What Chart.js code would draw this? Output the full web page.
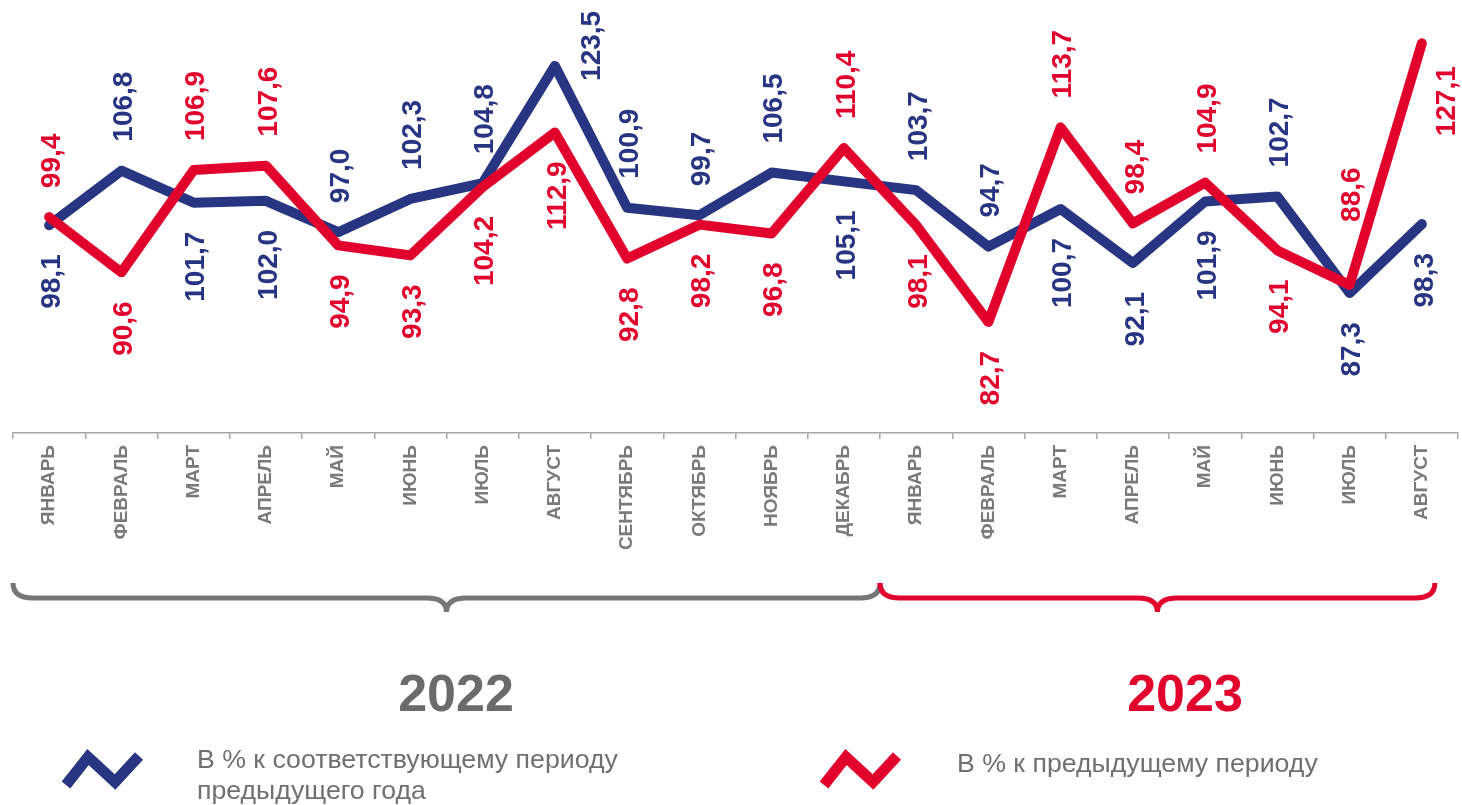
<!DOCTYPE html>
<html lang="ru">
<head>
<meta charset="utf-8">
<script src="https://cdn.jsdelivr.net/npm/chart.js@4.4.1/dist/chart.umd.min.js"></script>
<style>
  html, body { margin: 0; padding: 0; background: #fff; }
  body { width: 1462px; height: 805px; position: relative; overflow: hidden; font-family: "Liberation Sans", Arial, sans-serif; }
  #chart { position: absolute; left: 0; top: 0; }
  .year { position: absolute; top: 660px; width: 200px; text-align: center; font-size: 52px; font-weight: bold; line-height: 66px; }
  .legText { position: absolute; font-size: 26.7px; line-height: 31px; color: #707070; white-space: nowrap; }
  svg.icon { position: absolute; left: 0; top: 0; }
</style>
</head>
<body>
<canvas id="chart" width="1462" height="805"></canvas>

<div class="year" style="left:356px; color:#6b6b6b;">2022</div>
<div class="year" style="left:1085px; color:#e2002d;">2023</div>

<svg class="icon" width="1462" height="805">
  <polyline points="66,785 88,757 115,782 139,756" fill="none" stroke="#283583" stroke-width="11" stroke-linejoin="miter"/>
  <polyline points="824,785 846,757 873,782 897,756" fill="none" stroke="#e2002d" stroke-width="11" stroke-linejoin="miter"/>
</svg>
<div class="legText" style="left:197px; top:744px;">В % к соответствующему периоду<br>предыдущего года</div>
<div class="legText" style="left:957px; top:748px;">В % к предыдущему периоду</div>

<script>
// months, 2022 Jan - 2023 Aug
const months = ['ЯНВАРЬ','ФЕВРАЛЬ','МАРТ','АПРЕЛЬ','МАЙ','ИЮНЬ','ИЮЛЬ','АВГУСТ','СЕНТЯБРЬ','ОКТЯБРЬ','НОЯБРЬ','ДЕКАБРЬ',
                'ЯНВАРЬ','ФЕВРАЛЬ','МАРТ','АПРЕЛЬ','МАЙ','ИЮНЬ','ИЮЛЬ','АВГУСТ'];
// % к соответствующему периоду предыдущего года
const yoyValues = [98.1,106.8,101.7,102.0,97.0,102.3,104.8,123.5,100.9,99.7,106.5,105.1,
                   103.7,94.7,100.7,92.1,101.9,102.7,87.3,98.3];
// % к предыдущему периоду
const momValues = [99.4,90.6,106.9,107.6,94.9,93.3,104.2,112.9,92.8,98.2,96.8,110.4,
                   98.1,82.7,113.7,98.4,104.9,94.1,88.6,127.1];
const years = ['2022','2023'];

const BLUE = '#283583';
const RED = '#e2002d';
const FONT = '"Liberation Sans", Arial, sans-serif';

// value labels: above if this series is the higher one, below otherwise
const valueLabels = {
    id: 'valueLabels',
    afterDatasetsDraw(chart) {
        const ctx = chart.ctx;
        const gap = 29;
        ctx.save();
        ctx.font = 'bold 28px ' + FONT;
        ctx.textBaseline = 'middle';
        chart.data.datasets.forEach((ds, di) => {
            const other = chart.data.datasets[1 - di].data;
            const meta = chart.getDatasetMeta(di);
            ctx.fillStyle = ds.borderColor;
            meta.data.forEach((pt, i) => {
                const v = ds.data[i];
                const txt = v.toFixed(1).replace('.', ',');
                const above = v >= other[i];
                const w = ctx.measureText(txt).width;
                let x = pt.x + 3, y, align;
                if (above && pt.y - gap - w < chart.chartArea.top + 5) {
                    // no room on top - put it beside the peak
                    x = pt.x + (di === 0 ? 37 : 25);
                    y = di === 0 ? pt.y + 15 : pt.y + 93;
                    align = 'left';
                } else if (above) {
                    // steep rise right after the point: lift the label clear of the line
                    const next = ds.data[i + 1];
                    const lift = (next !== undefined && next - v > 20) ? 34 : 0;
                    y = pt.y - gap - lift; align = 'left';
                } else {
                    y = pt.y + gap; align = 'right';
                }
                ctx.save();
                ctx.translate(x, y);
                ctx.rotate(-Math.PI / 2);
                ctx.textAlign = align;
                ctx.fillText(txt, 0, 0);
                ctx.restore();
            });
        });
        ctx.restore();
    }
};

// curly brackets under the months of each year
const yearBrackets = {
    id: 'yearBrackets',
    afterDraw(chart) {
        const xs = chart.scales.x;
        const ctx = chart.ctx;
        const half = (xs.getPixelForValue(1) - xs.getPixelForValue(0)) / 2;
        const split = xs.getPixelForValue(11) + half;
        const spans = [
            [xs.left, split, '#767676'],
            [split, xs.getPixelForValue(19) + 13, RED]
        ];
        const yTop = 583, yLine = 598, yTip = 612, r = 20;
        ctx.save();
        ctx.lineWidth = 5;
        ctx.lineCap = 'butt';
        spans.forEach(([a, b, col]) => {
            const m = (a + b) / 2;
            ctx.strokeStyle = col;
            ctx.beginPath();
            ctx.moveTo(a, yTop);
            ctx.quadraticCurveTo(a, yLine, a + r, yLine);
            ctx.lineTo(m - r, yLine);
            ctx.quadraticCurveTo(m, yLine, m, yTip);
            ctx.quadraticCurveTo(m, yLine, m + r, yLine);
            ctx.lineTo(b - r, yLine);
            ctx.quadraticCurveTo(b, yLine, b, yTop);
            ctx.stroke();
        });
        ctx.restore();
    }
};

new Chart(document.getElementById('chart'), {
    type: 'line',
    data: {
        labels: months,
        datasets: [
            { label: 'В % к соответствующему периоду предыдущего года', data: yoyValues,
              borderColor: BLUE, borderWidth: 10, pointRadius: 0, tension: 0, order: 1,
              borderJoinStyle: 'round', borderCapStyle: 'round', clip: false },
            { label: 'В % к предыдущему периоду', data: momValues,
              borderColor: RED, borderWidth: 10, pointRadius: 0, tension: 0, order: 0,
              borderJoinStyle: 'round', borderCapStyle: 'round', clip: false }
        ]
    },
    options: {
        responsive: false,
        animation: false,
        layout: { padding: { left: 13, right: 4, top: 0, bottom: 0 } },
        plugins: { legend: { display: false }, tooltip: { enabled: false } },
        scales: {
            x: {
                offset: true,
                grid: { offset: true, drawOnChartArea: false, drawTicks: true, tickLength: 6, color: '#a6a6a6', lineWidth: 1.5 },
                border: { display: true, color: '#a6a6a6', width: 1.5 },
                ticks: { autoSkip: false, minRotation: 90, maxRotation: 90, padding: 6,
                         color: '#7a7a7a', font: { family: FONT, size: 19, weight: 'bold' } },
                afterFit(scale) { scale.height = 372; }
            },
            y: { display: false, min: 65, max: 134 }
        }
    },
    plugins: [valueLabels, yearBrackets]
});
</script>
</body>
</html>
